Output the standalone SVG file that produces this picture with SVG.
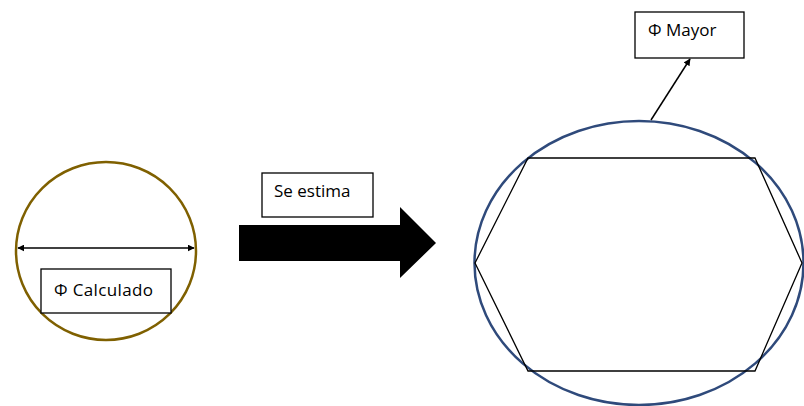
<svg xmlns="http://www.w3.org/2000/svg" width="804" height="406" viewBox="0 0 804 406">
<style>
.box{fill:#fff;stroke:#000;stroke-width:1.3}
.lbl{font-family:"Open Sans","Liberation Sans",sans-serif;font-size:17px;fill:#000}
.ln{stroke:#000;stroke-width:1.5;fill:none}
</style>
<defs>
<marker id="ah" viewBox="0 0 10 10" refX="9" refY="5" markerWidth="7" markerHeight="7" orient="auto-start-reverse" markerUnits="userSpaceOnUse">
<path d="M0,0 L10,5 L0,10 z" fill="#000"/>
</marker>
</defs>
<rect width="804" height="406" fill="#fff"/>
<g id="circulo-calculado">
<ellipse cx="106" cy="251" rx="90" ry="89" fill="none" stroke="#7f6000" stroke-width="2.5"/>
</g>
<g id="circulo-mayor">
<ellipse cx="639" cy="263" rx="164.5" ry="142" fill="none" stroke="#2f4a7b" stroke-width="2.5"/>
<polygon points="528,158 755,158 802,263 755,371 528,371 475,263" fill="none" stroke="#000" stroke-width="1.3"/>
</g>
<g id="flecha-bloque">
<polygon points="239,225 400,225 400,207 436,243 400,278 400,261 239,261" fill="#000"/>
</g>
<g id="connectors">
<line class="ln" x1="18" y1="248" x2="194" y2="248" marker-start="url(#ah)" marker-end="url(#ah)"/>
<line class="ln" x1="651" y1="120" x2="690" y2="59" marker-end="url(#ah)"/>
</g>
<g id="label-calculado">
<rect class="box" x="41" y="269" width="130" height="44"/>
<text class="lbl" x="54" y="296" textLength="99">Φ Calculado</text>
</g>
<g id="label-estima">
<rect class="box" x="262" y="173" width="111" height="44"/>
<text class="lbl" x="274" y="197">Se estima</text>
</g>
<g id="label-mayor">
<rect class="box" x="635" y="12" width="109" height="46"/>
<text class="lbl" x="648" y="36">Φ Mayor</text>
</g>
</svg>
